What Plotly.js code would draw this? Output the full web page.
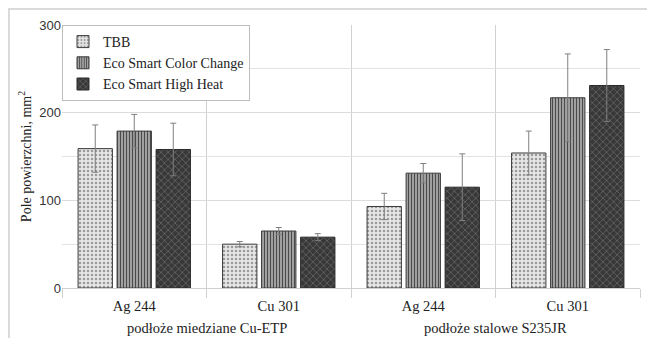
<!DOCTYPE html>
<html>
<head>
<meta charset="utf-8">
<script src="https://cdn.plot.ly/plotly-3.0.1.min.js"></script>
<style>
html,body{margin:0;padding:0;background:#fff;}
#chart{width:647px;height:338px;position:absolute;left:0;top:0;}
#frame{position:absolute;left:8px;top:8px;width:700px;height:400px;border-top:2px solid #dadada;border-left:2px solid #dadada;pointer-events:none;}
</style>
</head>
<body>
<div id="chart"></div>
<div id="frame"></div>
<script>
const outer = ['podłoże miedziane Cu-ETP','podłoże miedziane Cu-ETP','podłoże stalowe S235JR','podłoże stalowe S235JR'];
const inner = ['Ag 244','Cu 301','Ag 244','Cu 301'];
const seriesNames = ['TBB','Eco Smart Color Change','Eco Smart High Heat'];
const tbb = [159, 50, 93, 154];
const tbbErr = [27, 3, 15, 25];
const colorChange = [179, 65, 131, 217];
const colorChangeErr = [19, 4, 11, 50];
const highHeat = [158, 58, 115, 231];
const highHeatErr = [30, 4, 38, 41];

const serif = 'Liberation Serif';
const sans = 'Liberation Sans';

// category positions on the axis (index of each inner category)
const pos = inner.map((_, i) => i);
// outer group centres, derived from the category list
const groups = [];
outer.forEach((g, i) => {
  let grp = groups.find(o => o.name === g);
  if (!grp) { grp = {name: g, idx: []}; groups.push(grp); }
  grp.idx.push(i);
});

function errBar(arr){
  return {type:'data', array:arr, visible:true, color:'#7f7f7f', thickness:1, width:3};
}

const traces = [
  {type:'bar', name:seriesNames[0], x:pos, y:tbb, error_y:errBar(tbbErr),
   marker:{color:'#e4e4e4', line:{color:'#3a3a3a', width:1},
     pattern:{shape:'.', fgcolor:'#9a9a9a', bgcolor:'#e6e6e6', size:4, solidity:0.3}}},
  {type:'bar', name:seriesNames[1], x:pos, y:colorChange, error_y:errBar(colorChangeErr),
   marker:{color:'#8a8a8a', line:{color:'#3a3a3a', width:1},
     pattern:{shape:'|', fgcolor:'#4a4a4a', bgcolor:'#bdbdbd', size:3, solidity:0.5}}},
  {type:'bar', name:seriesNames[2], x:pos, y:highHeat, error_y:errBar(highHeatErr),
   marker:{color:'#3c3c3c', line:{color:'#2a2a2a', width:1},
     pattern:{shape:'x', fgcolor:'#646464', bgcolor:'#383838', size:5, solidity:0.3}}}
];

const annotations = groups.map(g => ({
  xref:'x', yref:'paper',
  x: g.idx.reduce((a, b) => a + b, 0) / g.idx.length,
  y: -0.115, yanchor:'top', xanchor:'center', showarrow:false,
  text: g.name, font:{family:serif, size:14.5, color:'#222'}
}));

const layout = {
  width:647, height:338,
  margin:{l:62, r:7, t:25, b:50},
  paper_bgcolor:'#fff', plot_bgcolor:'#fff',
  barmode:'group', bargap:0.19, bargroupgap:0.12,
  showlegend:true,
  legend:{x:0, y:1, xanchor:'left', yanchor:'top', bgcolor:'#fff', bordercolor:'#bdbdbd', borderwidth:1,
    font:{family:serif, size:14, color:'#222'}, tracegroupgap:0, itemwidth:30},
  xaxis:{type:'linear', range:[-0.5, pos.length - 0.5], tickmode:'array', tickvals:pos, ticktext:inner,
    showgrid:false, ticks:'', showline:false, zeroline:false, ticklabelstandoff:7,
    tickfont:{family:serif, size:14.5, color:'#222'},
    minor:{tickmode:'linear', tick0:-0.5, dtick:1, ticks:'outside', ticklen:9, tickcolor:'#d0d0d0',
      showgrid:true, gridcolor:'#d0d0d0', gridwidth:1}},
  yaxis:{range:[0,300], dtick:100, showgrid:true, gridcolor:'#dcdcdc', zeroline:true, zerolinecolor:'#d0d0d0',
    showline:false, ticks:'', tickfont:{family:sans, size:13, color:'#333'},
    minor:{dtick:50, showgrid:true, gridcolor:'#e2e2e2'},
    title:{text:'Pole powierzchni, mm<sup>2</sup>', font:{family:serif, size:14, color:'#222'}, standoff:4}},
  annotations: annotations
};

Plotly.newPlot('chart', traces, layout, {displayModeBar:false, staticPlot:true});
</script>
</body>
</html>
